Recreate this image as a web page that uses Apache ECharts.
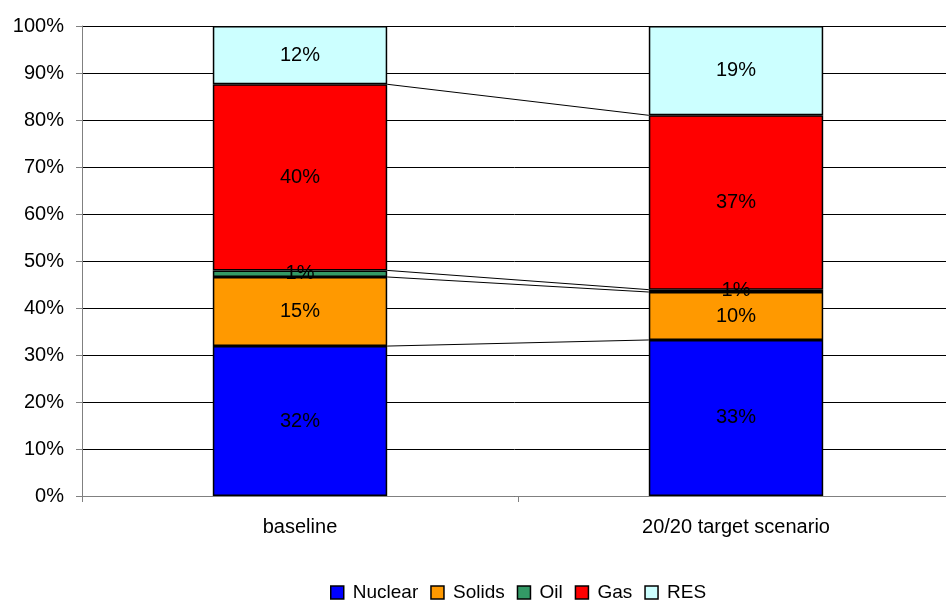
<!DOCTYPE html>
<html>
<head>
<meta charset="utf-8">
<script src="https://cdn.jsdelivr.net/npm/echarts@6/dist/echarts.min.js"></script>
<style>
  html, body { margin: 0; padding: 0; background: #fff; }
  #chart { width: 946px; height: 601px; }
</style>
</head>
<body>
<div id="chart"></div>
<script>
var categories = ['baseline', '20/20 target scenario'];
var seriesNames = ['Nuclear', 'Solids', 'Oil', 'Gas', 'RES'];
var nuclear = [31.9, 33.2];
var solids = [14.7, 10.2];
var oil = [1.4, 0.5];
var gas = [39.6, 37.1];
var res = [12.4, 19.0];
var colors = ['#0000FF', '#FF9900', '#339966', '#FF0000', '#CCFFFF'];
var yTicks = [0, 10, 20, 30, 40, 50, 60, 70, 80, 90, 100];

var chart = echarts.init(document.getElementById('chart'));
var allData = [nuclear, solids, oil, gas, res];

// cumulative tops for the connector lines between the two bars
var levels = [];
var cumA = 0, cumB = 0;
for (var i = 0; i < allData.length - 1; i++) {
    cumA += allData[i][0];
    cumB += allData[i][1];
    levels.push([0, cumA, cumB]);
}

var barSeries = seriesNames.map(function (name, i) {
    return {
        name: name,
        type: 'bar',
        stack: 'total',
        barWidth: '40%',
        itemStyle: {
            color: colors[i],
            borderColor: '#000',
            borderWidth: 1.5
        },
        label: {
            show: true,
            position: 'inside',
            color: '#000',
            fontSize: 20,
            fontFamily: 'Liberation Sans, Arial, sans-serif',
            formatter: function (p) { return Math.round(p.value) + '%'; }
        },
        data: allData[i]
    };
});

var connectors = {
    type: 'custom',
    silent: true,
    z: 3,
    encode: { x: 0, y: [1, 2] },
    renderItem: function (params, api) {
        var p1 = api.coord([0, api.value(1)]);
        var p2 = api.coord([1, api.value(2)]);
        var half = api.size([1, 0])[0] * 0.2;
        return {
            type: 'line',
            shape: { x1: p1[0] + half, y1: p1[1], x2: p2[0] - half, y2: p2[1] },
            style: { stroke: '#000', lineWidth: 1 }
        };
    },
    data: levels
};

var option = {
    animation: false,
    textStyle: { fontFamily: 'Liberation Sans, Arial, sans-serif' },
    grid: { left: 82, right: -8, top: 26, bottom: 105, outerBoundsMode: 'none', containLabel: false },
    legend: {
        data: seriesNames,
        left: 330,
        top: 583,
        padding: 0,
        itemWidth: 13,
        itemHeight: 13,
        itemGap: 12,
        icon: 'rect',
        itemStyle: { borderColor: '#000', borderWidth: 1.5 },
        textStyle: { fontSize: 19, color: '#000', padding: [0, 0, 0, 4] }
    },
    xAxis: {
        type: 'category',
        data: categories,
        axisLine: { lineStyle: { color: '#808080' } },
        axisTick: { show: true, length: 6, lineStyle: { color: '#808080' } },
        axisLabel: { fontSize: 20, color: '#000', margin: 21 }
    },
    yAxis: {
        type: 'value',
        min: 0,
        max: 100,
        interval: 10,
        axisLine: { show: true, lineStyle: { color: '#808080' } },
        axisTick: { show: true, length: 6, lineStyle: { color: '#808080' } },
        splitLine: { lineStyle: { color: '#000', width: 1 } },
        axisLabel: {
            fontSize: 20,
            color: '#000',
            margin: 18,
            formatter: function (v) { return yTicks.indexOf(v) >= 0 ? v + '%' : ''; }
        }
    },
    series: barSeries.concat([connectors])
};
chart.setOption(option);
</script>
</body>
</html>
